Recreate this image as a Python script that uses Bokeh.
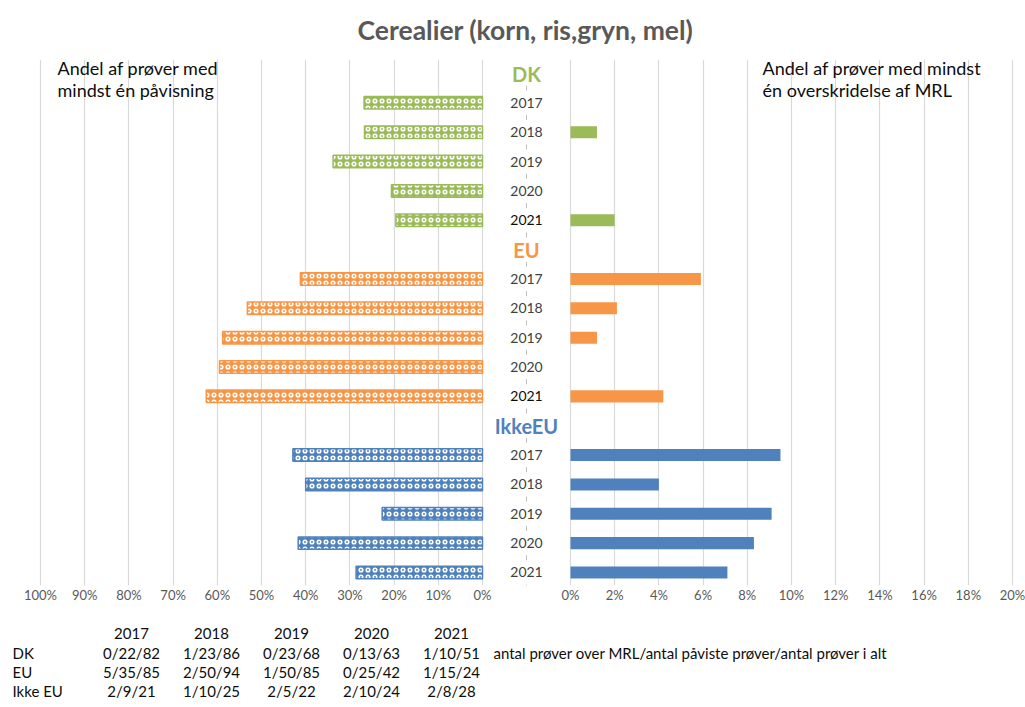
import math
from bokeh.plotting import figure
from bokeh.models import (Range1d, LinearAxis, FixedTicker, NumeralTickFormatter,
                          Grid, ColumnDataSource, Label)
from bokeh.layouts import column, row
from bokeh.embed import file_html
from bokeh.resources import INLINE
from bokeh.core.properties import value

# ---------------- data ----------------
title_text = "Cerealier (korn, ris,gryn, mel)"
groups = ["DK", "EU", "IkkeEU"]
years = ["2017", "2018", "2019", "2020", "2021"]
group_colors = ["#9BBB59", "#F79646", "#4F81BD"]

# share of samples with at least one detection (%)
dk_detected = [26.8, 26.7, 33.8, 20.6, 19.6]
eu_detected = [41.2, 53.2, 58.8, 59.5, 62.5]
ikkeeu_detected = [42.9, 40.0, 22.7, 41.7, 28.6]

# share of samples with at least one MRL exceedance (%)
dk_over_mrl = [0.0, 1.2, 0.0, 0.0, 2.0]
eu_over_mrl = [5.9, 2.1, 1.2, 0.0, 4.2]
ikkeeu_over_mrl = [9.5, 4.0, 9.1, 8.3, 7.1]

left_ticks = [0.0, 0.1, 0.2, 0.3, 0.4, 0.5, 0.6, 0.7, 0.8, 0.9, 1.0]
right_ticks = [0.0, 0.02, 0.04, 0.06, 0.08, 0.10, 0.12, 0.14, 0.16, 0.18, 0.20]

left_note = ["Andel af prøver med", "mindst én påvisning"]
right_note = ["Andel af prøver med mindst", "én overskridelse af MRL"]

table_years = ["2017", "2018", "2019", "2020", "2021"]
table_groups = ["DK", "EU", "Ikke EU"]
table_dk = ["0/22/82", "1/23/86", "0/23/68", "0/13/63", "1/10/51"]
table_eu = ["5/35/85", "2/50/94", "1/50/85", "0/25/42", "1/15/24"]
table_ikkeeu = ["2/9/21", "1/10/25", "2/5/22", "2/10/24", "2/8/28"]
table_note = "antal prøver over MRL/antal påviste prøver/antal prøver i alt"

FONT = "Lato"
GRID = "#D9D9D9"

detected = [dk_detected, eu_detected, ikkeeu_detected]
over_mrl = [dk_over_mrl, eu_over_mrl, ikkeeu_over_mrl]

# ---------------- build rows ----------------
bar_y, bar_det, bar_mrl, bar_col = [], [], [], []
lab_y, lab_text, lab_col = [], [], []
head_y, head_text, head_col = [], [], []
for gi, g in enumerate(groups):
    base = gi * 6
    head_y.append(base)
    head_text.append(g)
    head_col.append(group_colors[gi])
    for k, yname in enumerate(years):
        r = base + 1 + k
        bar_y.append(r)
        bar_det.append(detected[gi][k] / 100.0)
        bar_mrl.append(over_mrl[gi][k] / 100.0)
        bar_col.append(group_colors[gi])
        lab_y.append(r)
        lab_text.append(yname)
        lab_col.append("#0D0D0D" if (k == 4 and gi < 2) else "#404040")

n_rows = len(groups) * 6
bars = ColumnDataSource(dict(y=bar_y, det=bar_det, mrl=bar_mrl, color=bar_col))
labs = ColumnDataSource(dict(y=lab_y, text=lab_text, color=lab_col))
heads = ColumnDataSource(dict(y=head_y, text=head_text, color=head_col))
sep = ColumnDataSource(dict(y=[i + 0.5 for i in range(n_rows)], x=[0] * n_rows))

yr = Range1d(start=17.444, end=-0.477)


def style_axis(ax):
    ax.axis_line_color = None
    ax.major_tick_line_color = None
    ax.minor_tick_line_color = None
    ax.major_tick_out = 0
    ax.major_tick_in = 0
    ax.major_label_standoff = 1
    ax.major_label_text_font = FONT
    ax.major_label_text_font_size = "13px"
    ax.major_label_text_color = "#595959"


def note(fig, x, y, txt):
    fig.add_layout(Label(x=x, y=y, text=txt, text_align="left", text_baseline="middle",
                         text_font=FONT, text_font_size="18px", text_color="#0D0D0D"))


common = dict(output_backend="svg", toolbar_location=None, x_axis_location=None,
              y_axis_location=None, outline_line_color=None,
              background_fill_color="white", border_fill_color="white")

# ---------------- title ----------------
tfig = figure(width=1025, height=48, x_range=Range1d(0, 1025), y_range=Range1d(48, 0),
              min_border_left=0, min_border_right=0, min_border_bottom=0, min_border_top=0,
              **common)
tfig.grid.visible = False
tfig.text(x=[525], y=[29], text=[title_text], text_align="center", text_baseline="middle",
          text_font=value(FONT), text_font_size=value("26.5px"), text_font_style="bold",
          text_color="#595959")

# ---------------- left panel ----------------
left = figure(width=558, height=564, x_range=Range1d(1.02715, -0.17195), y_range=yr,
              min_border_left=28, min_border_right=0, min_border_bottom=27, min_border_top=11,
              **common)
left.grid.visible = False
left.extra_x_ranges = {"mid": Range1d(-498, 32)}
left.add_layout(Grid(dimension=0, ticker=FixedTicker(ticks=left_ticks),
                     grid_line_color=GRID, grid_line_width=1.2))
lax = LinearAxis(ticker=FixedTicker(ticks=left_ticks), formatter=NumeralTickFormatter(format="0%"))
style_axis(lax)
left.add_layout(lax, "below")

left.hbar(y="y", left=0, right="det", height=0.425, source=bars,
          fill_color="color", line_color="color", line_width=1.5,
          hatch_pattern="ring", hatch_color="white", hatch_scale=7, hatch_weight=1.6)

left.scatter(x="x", y="y", source=sep, marker="dash", angle=math.pi / 2, size=5,
             line_color="#BFBFBF", x_range_name="mid")
left.text(x=0, y="y", text="text", source=labs, x_range_name="mid",
          text_align="center", text_baseline="middle", text_font=value(FONT),
          text_font_size=value("14px"), text_color="color")
left.text(x=0, y="y", text="text", source=heads, x_range_name="mid",
          text_align="center", text_baseline="middle", text_font=value(FONT),
          text_font_size=value("20px"), text_font_style="bold", text_color="color")
note(left, 0.9615, -0.204, left_note[0])
note(left, 0.9615, 0.579, left_note[1])

# ---------------- right panel ----------------
right = figure(width=467, height=564, x_range=Range1d(-0.00543, 0.20181), y_range=yr,
               min_border_left=0, min_border_right=9, min_border_bottom=27, min_border_top=11,
               **common)
right.grid.visible = False
right.add_layout(Grid(dimension=0, ticker=FixedTicker(ticks=right_ticks),
                      grid_line_color=GRID, grid_line_width=1.2))
rax = LinearAxis(ticker=FixedTicker(ticks=right_ticks), formatter=NumeralTickFormatter(format="0%"))
style_axis(rax)
right.add_layout(rax, "below")
right.hbar(y="y", left=0, right="mrl", height=0.41, source=bars,
           fill_color="color", line_color=None)
note(right, 0.0869, -0.204, right_note[0])
note(right, 0.0869, 0.579, right_note[1])

# ---------------- table ----------------
tbl = figure(width=1025, height=93, x_range=Range1d(-1.6375, 11.175), y_range=Range1d(3.731, -1.088),
             min_border_left=0, min_border_right=0, min_border_bottom=0, min_border_top=0,
             **common)
tbl.grid.visible = False
tx, ty, tt = [], [], []
for i, yname in enumerate(table_years):
    tx.append(i); ty.append(0); tt.append(yname)
for gi, vals in enumerate([table_dk, table_eu, table_ikkeeu]):
    for i, v in enumerate(vals):
        tx.append(i); ty.append(gi + 1); tt.append(v)
tbl.text(x=tx, y=ty, text=tt, text_align="center", text_baseline="middle",
         text_font=value(FONT), text_font_size=value("15px"), text_color="#0D0D0D")
tbl.text(x=[-1.4875] * 3, y=[1, 2, 3], text=table_groups, text_align="left",
         text_baseline="middle", text_font=value(FONT), text_font_size=value("15px"),
         text_color="#0D0D0D")
tbl.text(x=[4.525], y=[1], text=[table_note], text_align="left", text_baseline="middle",
         text_font=value(FONT), text_font_size=value("15px"), text_color="#0D0D0D")

layout = column(tfig, row(left, right), tbl)
open("out.html", "w").write(file_html(layout, INLINE))
